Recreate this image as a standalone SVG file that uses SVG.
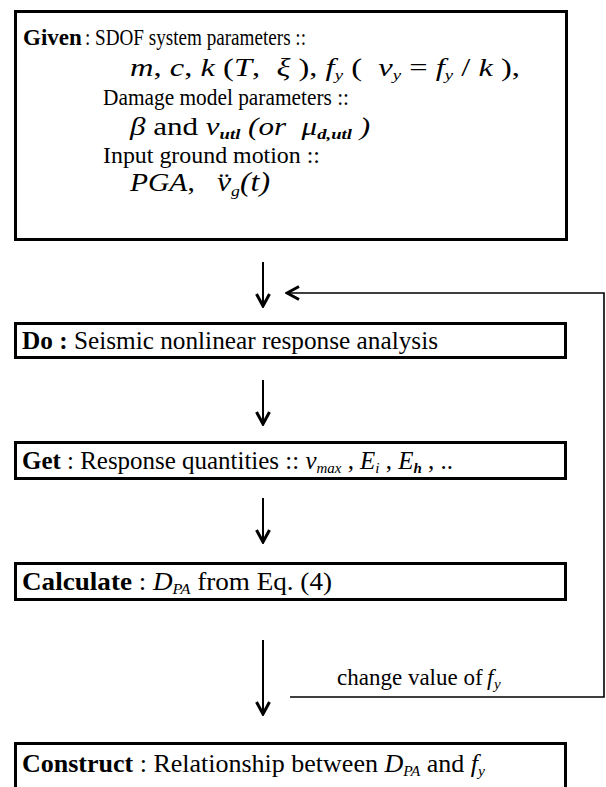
<svg xmlns="http://www.w3.org/2000/svg" width="606" height="787" viewBox="0 0 606 787">
  <style>
    text { font-family: "Liberation Serif", "Times New Roman", serif; font-size: 23px; fill: #000; }
    .lg { font-size: 25px; }
    .b { font-weight: bold; }
    .i { font-style: italic; }
    .sub { font-size: 15px; font-style: italic; }
    .box { fill: #fff; stroke: #000; stroke-width: 3; }
    .edge { fill: none; stroke: #000; stroke-width: 2; }
    .line { fill: none; stroke: #000; stroke-width: 1.6; }
  </style>
  <defs>
    <marker id="arrow" viewBox="0 0 16 16" refX="14" refY="8" markerWidth="16" markerHeight="16" markerUnits="userSpaceOnUse" orient="auto">
      <path d="M2,1.5 L14,8 L2,14.5" fill="none" stroke="#000" stroke-width="3" stroke-linejoin="miter"/>
    </marker>
  </defs>
  <rect width="606" height="787" fill="#fff"/>

  <!-- input parameters -->
  <g id="given">
    <rect class="box" x="15.5" y="11.5" width="551" height="228"/>
    <text class="b" x="23" y="45">Given</text>
    <text x="85" y="45" textLength="221" lengthAdjust="spacingAndGlyphs" style="font-size:24px">: SDOF system parameters ::</text>
    <text x="130" y="76" xml:space="preserve" textLength="390" lengthAdjust="spacingAndGlyphs" style="font-size:26px"><tspan class="i">m</tspan>, <tspan class="i">c</tspan>, <tspan class="i">k</tspan> (<tspan class="i">T</tspan>,  <tspan class="i">ξ</tspan> ), <tspan class="i">f</tspan><tspan class="sub" dy="4">y</tspan><tspan dy="-4"> (  </tspan><tspan class="i">v</tspan><tspan class="sub" dy="4">y</tspan><tspan dy="-4"> = </tspan><tspan class="i">f</tspan><tspan class="sub" dy="4">y</tspan><tspan dy="-4"> / </tspan><tspan class="i">k</tspan> ),</text>
    <text x="103" y="105" textLength="246" lengthAdjust="spacingAndGlyphs">Damage model parameters ::</text>
    <text x="130" y="135" xml:space="preserve" textLength="240" lengthAdjust="spacingAndGlyphs" style="font-size:25px"><tspan class="i">β</tspan> and <tspan class="i">v</tspan><tspan class="sub b" dy="4">utl</tspan><tspan class="i" dy="-4"> (or  </tspan><tspan class="i">μ</tspan><tspan class="sub b" dy="4">d,utl</tspan><tspan class="i" dy="-4"> )</tspan></text>
    <text x="103" y="163" textLength="217" lengthAdjust="spacingAndGlyphs">Input ground motion ::</text>
    <text x="130" y="191" xml:space="preserve" textLength="140" lengthAdjust="spacingAndGlyphs" style="font-size:25px"><tspan class="i">PGA</tspan>,   <tspan class="i" style="font-size:27px">v̈</tspan><tspan class="sub" dy="5">g</tspan><tspan class="i" dy="-5" style="font-size:27px">(t)</tspan></text>
  </g>

  <!-- analysis -->
  <g id="do">
    <rect class="box" x="15.5" y="323.5" width="550" height="34"/>
    <text class="lg" x="22" y="349" textLength="416" lengthAdjust="spacingAndGlyphs"><tspan class="b">Do :</tspan> Seismic nonlinear response analysis</text>
  </g>

  <g id="get">
    <rect class="box" x="15.5" y="442.5" width="550" height="36"/>
    <text class="lg" x="22" y="469" textLength="431" lengthAdjust="spacingAndGlyphs"><tspan class="b">Get</tspan> : Response quantities :: <tspan class="i">v</tspan><tspan class="sub" dy="4">max</tspan><tspan dy="-4"> , </tspan><tspan class="i">E</tspan><tspan class="sub" dy="4">i</tspan><tspan dy="-4"> , </tspan><tspan class="i">E</tspan><tspan class="sub b" dy="4">h</tspan><tspan dy="-4"> , ..</tspan></text>
  </g>

  <g id="calculate">
    <rect class="box" x="15.5" y="563.5" width="550" height="36"/>
    <text class="lg" x="22" y="590" textLength="310" lengthAdjust="spacingAndGlyphs"><tspan class="b">Calculate</tspan> : <tspan class="i">D</tspan><tspan class="sub" dy="4">PA</tspan><tspan dy="-4"> from Eq. (4)</tspan></text>
  </g>

  <g id="construct">
    <rect class="box" x="15.5" y="743.5" width="550" height="46"/>
    <text class="lg" x="22" y="772" textLength="463" lengthAdjust="spacingAndGlyphs"><tspan class="b">Construct</tspan> : Relationship between <tspan class="i">D</tspan><tspan class="sub" dy="4">PA</tspan><tspan dy="-4"> and </tspan><tspan class="i">f</tspan><tspan class="sub" dy="4">y</tspan></text>
  </g>

  <!-- connectors -->
  <g id="connectors">
    <line class="edge" x1="263" y1="262" x2="263" y2="306" marker-end="url(#arrow)"/>
    <line class="edge" x1="263" y1="380" x2="263" y2="424" marker-end="url(#arrow)"/>
    <line class="edge" x1="263" y1="498" x2="263" y2="542" marker-end="url(#arrow)"/>
    <line class="edge" x1="263" y1="640" x2="263" y2="714" marker-end="url(#arrow)"/>
    <polyline class="line" points="290,697 604,697 604,293 287,293" marker-end="url(#arrow)"/>
    <text x="337" y="685">change value of</text>
    <text class="i" x="487" y="685">f</text>
    <text class="sub" x="494" y="689">y</text>
  </g>
</svg>
